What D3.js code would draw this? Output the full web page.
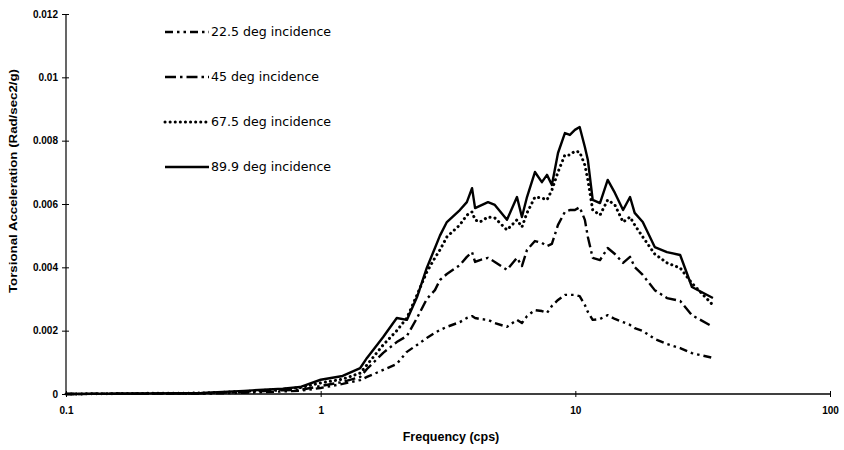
<!DOCTYPE html>
<html lang="en">
<head>
<meta charset="UTF-8">
<script src="https://d3js.org/d3.v7.min.js"></script>
<style>
    html, body { margin: 0; padding: 0; background: #fff; overflow: hidden; }
    svg { display: block; font-family: "Liberation Sans", Arial, sans-serif; }
    .series { fill: none; stroke: #000; }
    .axis line, .axis path { stroke: #000; }
</style>
</head>
<body>
<svg id="chart" width="844" height="450"></svg>
<script>
// frequency points (cps)
const freq = [0.1, 0.21, 0.34, 0.5, 0.71, 0.83, 1.0, 1.22, 1.43, 1.52, 1.76, 1.99, 2.18, 2.39, 2.61,
    2.81, 2.94, 3.13, 3.52, 3.75, 3.93, 4.04, 4.22, 4.54, 4.83, 5.39, 5.9, 6.17, 6.46, 6.94, 7.39,
    7.74, 8.09, 8.55, 9.1, 9.52, 9.96, 10.4, 10.9, 11.2, 11.7, 12.5, 13.4, 14.3, 15.4, 16.4, 17.1,
    18.4, 20.5, 22.9, 25.8, 28.7, 34.7];

const inc225 = [0, 0.00001, 0.00001, 0.00004, 0.00008, 0.0001, 0.00019, 0.00032, 0.00044, 0.00054,
    0.00076, 0.00095, 0.00133, 0.00155, 0.00177, 0.00193, 0.00202, 0.00212, 0.00227, 0.0024, 0.00246,
    0.0024, 0.00237, 0.00234, 0.00224, 0.00212, 0.00234, 0.00224, 0.00246, 0.00265, 0.00262, 0.00256,
    0.00278, 0.00297, 0.00313, 0.00313, 0.00313, 0.00309, 0.00281, 0.00259, 0.00234, 0.00237, 0.00249,
    0.00237, 0.00227, 0.00218, 0.00208, 0.00199, 0.00174, 0.00158, 0.00145, 0.00129, 0.00114];

const inc45 = [0, 0.00001, 0.00002, 0.00006, 0.00012, 0.00013, 0.00025, 0.00038, 0.00054, 0.00079,
    0.0013, 0.00164, 0.00183, 0.0024, 0.003, 0.00328, 0.0036, 0.00379, 0.00407, 0.00433, 0.00448,
    0.00417, 0.00423, 0.0043, 0.00417, 0.00392, 0.0043, 0.00404, 0.00455, 0.00483, 0.00477, 0.00467,
    0.00474, 0.00534, 0.00575, 0.00581, 0.00581, 0.0059, 0.0055, 0.00496, 0.0043, 0.00423, 0.00461,
    0.00442, 0.00414, 0.00433, 0.00401, 0.00376, 0.00328, 0.00303, 0.00294, 0.00249, 0.00212];

const inc675 = [0, 0.00002, 0.00003, 0.00008, 0.00015, 0.0002, 0.00035, 0.00047, 0.00066, 0.00092,
    0.00155, 0.002, 0.0024, 0.00313, 0.00385, 0.0043, 0.00455, 0.00496, 0.00534, 0.00565, 0.00575,
    0.0055, 0.00543, 0.00559, 0.00556, 0.00518, 0.0055, 0.00527, 0.00572, 0.00622, 0.00619, 0.00613,
    0.00644, 0.00701, 0.00755, 0.00755, 0.00767, 0.00764, 0.00723, 0.00676, 0.00581, 0.00565, 0.00613,
    0.00597, 0.00543, 0.00559, 0.00534, 0.00496, 0.00442, 0.00414, 0.00398, 0.0035, 0.00281];

const inc899 = [0, 0.00002, 0.00003, 0.0001, 0.00017, 0.00022, 0.00045, 0.00057, 0.00082, 0.00114,
    0.0018, 0.0024, 0.00234, 0.00306, 0.00398, 0.00461, 0.005, 0.00543, 0.00581, 0.00606, 0.0065,
    0.00587, 0.00594, 0.00606, 0.00597, 0.0055, 0.00622, 0.00559, 0.00622, 0.00701, 0.00669, 0.00692,
    0.0066, 0.00761, 0.00824, 0.00818, 0.00834, 0.00843, 0.0078, 0.00739, 0.00613, 0.00603, 0.00676,
    0.00635, 0.00581, 0.00622, 0.00572, 0.00543, 0.00464, 0.00448, 0.00439, 0.00338, 0.00303];

const seriesNames = ["22.5 deg incidence", "45 deg incidence", "67.5 deg incidence", "89.9 deg incidence"];
const yTicks = [0, 0.002, 0.004, 0.006, 0.008, 0.01, 0.012];
const yTickLabels = ["0", "0.002", "0.004", "0.006", "0.008", "0.01", "0.012"];
const xTicks = [0.1, 1, 10, 100];
const xTickLabels = ["0.1", "1", "10", "100"];

const dashes = ["8,4,2.5,4,2.5,4", "11,4,2.5,4", "0.1,5", null];

const svg = d3.select("#chart");

const x = d3.scaleLog().domain([0.1, 100]).range([66, 830]);
const y = d3.scaleLinear().domain([0, 0.012]).range([394, 14]);

// y axis
const yAxis = svg.append("g")
    .attr("class", "axis")
    .attr("transform", "translate(66,0)")
    .call(d3.axisLeft(y).tickValues(yTicks).tickSize(4).tickFormat((d, i) => yTickLabels[i]));
yAxis.select(".domain").remove();
yAxis.append("line").attr("y1", y(0)).attr("y2", y(0.012)).attr("stroke-width", 1.2);
yAxis.selectAll(".tick line").attr("x1", 3).attr("x2", -4);
yAxis.selectAll(".tick text")
    .attr("x", -8)
    .style("font-size", "10px")
    .style("font-weight", "bold")
    .style("font-family", "'Liberation Sans', Arial, sans-serif");

// x axis
const xAxis = svg.append("g")
    .attr("class", "axis")
    .attr("transform", "translate(0,394)")
    .call(d3.axisBottom(x).tickValues(xTicks).tickSize(3).tickFormat((d, i) => xTickLabels[i]));
xAxis.select(".domain").remove();
xAxis.append("line").attr("x1", 66).attr("x2", 830).attr("stroke-width", 1.4);
xAxis.selectAll(".tick line").attr("y1", -3).attr("y2", 3);
xAxis.selectAll(".tick text")
    .attr("y", 13)
    .style("font-size", "10px")
    .style("font-weight", "bold")
    .style("font-family", "'Liberation Sans', Arial, sans-serif");

// titles
svg.append("text")
    .attr("x", 451).attr("y", 441)
    .attr("text-anchor", "middle")
    .style("font-size", "12.5px").style("font-weight", "bold")
    .text("Frequency (cps)");

svg.append("text")
    .attr("transform", "translate(17,181) rotate(-90)")
    .attr("text-anchor", "middle")
    .attr("textLength", 224)
    .attr("lengthAdjust", "spacingAndGlyphs")
    .style("font-size", "10px").style("font-weight", "bold")
    .text("Torsional Acceleration (Rad/sec2/g)");

// series
const allSeries = [inc225, inc45, inc675, inc899];
const line = d3.line()
    .x((d, i) => x(freq[i]))
    .y(d => y(d));

allSeries.forEach((vals, k) => {
    svg.append("path")
        .datum(vals)
        .attr("class", "series")
        .attr("d", line)
        .attr("stroke-width", k === 2 ? 3 : 2.4)
        .attr("stroke-linecap", k === 2 ? "round" : "butt")
        .attr("stroke-linejoin", "round")
        .attr("stroke-dasharray", dashes[k]);
});

// legend
const legend = svg.append("g");
seriesNames.forEach((name, k) => {
    const ly = 32 + k * 45;
    legend.append("line")
        .attr("x1", 165).attr("x2", 209)
        .attr("y1", ly).attr("y2", ly)
        .attr("stroke", "#000")
        .attr("stroke-width", k === 2 ? 3 : 2.4)
        .attr("stroke-linecap", k === 2 ? "round" : "butt")
        .attr("stroke-dasharray", dashes[k]);
    legend.append("text")
        .attr("x", 211).attr("y", ly + 4)
        .style("font-family", "'DejaVu Sans', sans-serif")
        .style("font-size", "12.6px")
        .text(name);
});
</script>
</body>
</html>
